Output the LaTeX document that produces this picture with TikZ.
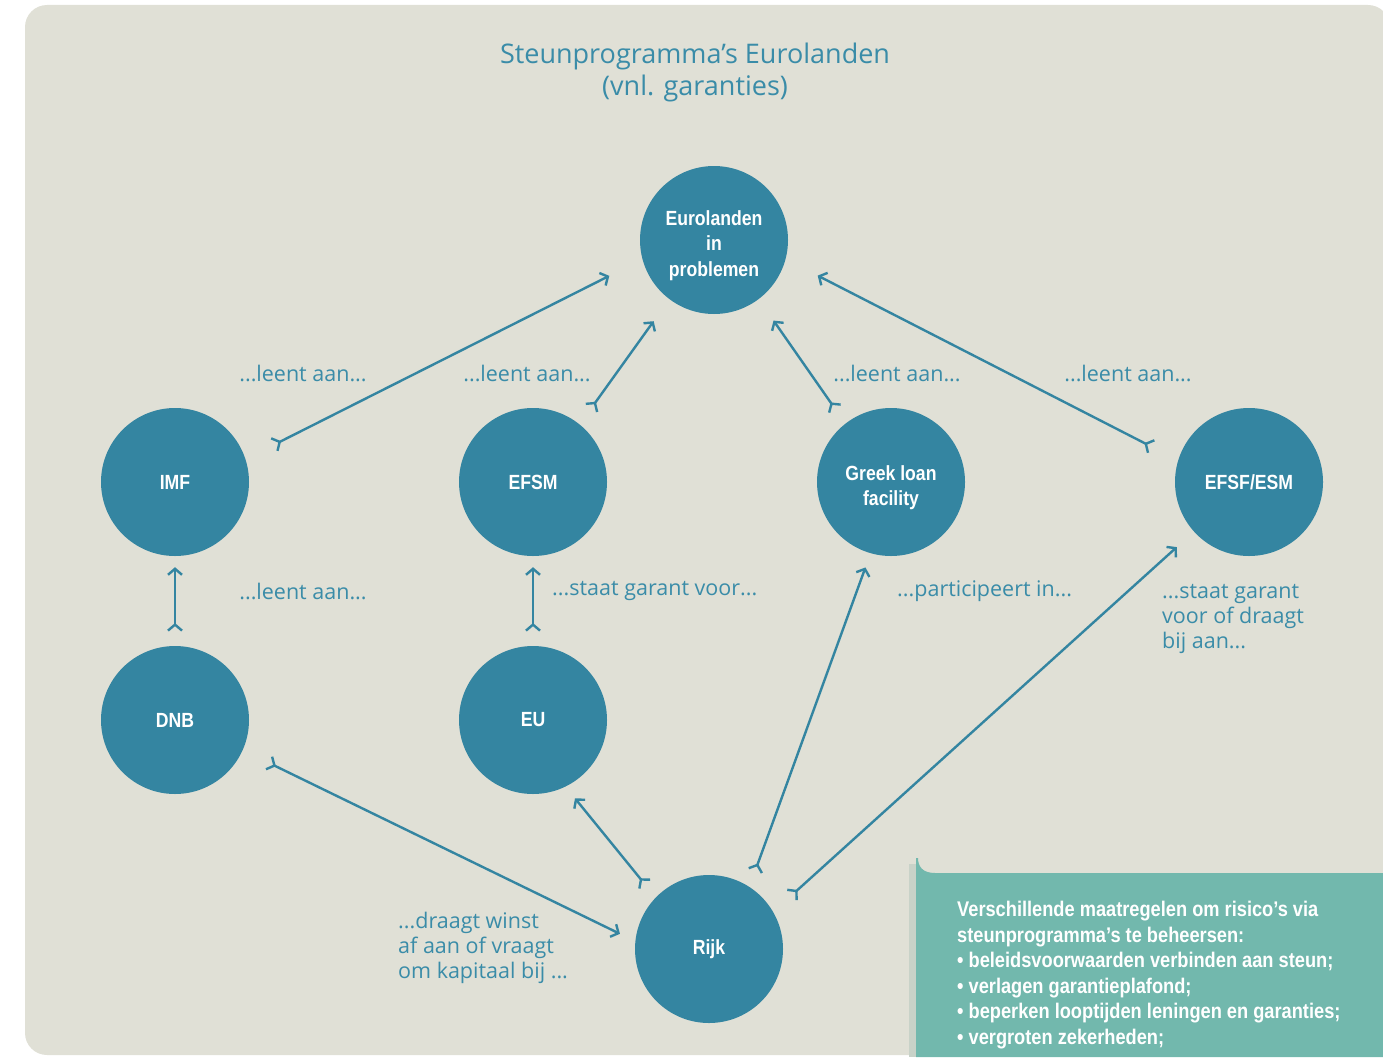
\documentclass[tikz,border=0pt]{standalone}
\usepackage{fontspec}
\setmainfont{Open Sans}
\newfontfamily\lblfont{Open Sans}
\newfontfamily\condfont[FakeStretch=0.86]{Liberation Sans}
\usetikzlibrary{arrows.meta}
\definecolor{bgc}{RGB}{224,224,214}
\definecolor{cblue}{RGB}{52,133,161}
\definecolor{tblue}{RGB}{58,140,168}
\definecolor{notecol}{RGB}{114,184,173}
\definecolor{stripcol}{RGB}{200,210,200}
\newcommand{\circtext}[1]{\raisebox{-5.8pt}[\height][\depth]{\begin{tabular}{@{}c@{}}#1\end{tabular}}}
\tikzset{
  circ/.style={circle, fill=cblue, minimum size=148pt, inner sep=0pt, text=white,
    font=\condfont\bfseries\fontsize{20.5}{25.5}\selectfont, align=center},
  lbl/.style={text=tblue, font=\lblfont\fontsize{21.5}{25}\selectfont, inner sep=0pt},
  conn/.style={draw=cblue, line width=2.4pt,
    arrows={{Straight Barb[reversed,length=6pt,width=14pt]}-{Straight Barb[length=6pt,width=14pt]}}}
}
\begin{document}
\begin{tikzpicture}[x=1pt,y=-1pt]
\useasboundingbox (0,0) rectangle (1383,1057);
\clip (0,0) rectangle (1383,1057);
\fill[bgc] (25,5) [rounded corners=22pt] -- (1390,5) -- (1390,1055) -- (25,1055) -- cycle;
% note box
\fill[stripcol] (909,864) rectangle (916,1057);
\fill[notecol] (916,858) -- (916,1057) -- (1383,1057) -- (1383,873) -- (935,873)
  .. controls (922,873) and (918,866) .. (918,858) -- cycle;
\node[anchor=north west, text=white, font=\condfont\bfseries\fontsize{21.2}{25.5}\selectfont,
  align=left, inner sep=0pt] (note) at (957,901)
  {Verschillende maatregelen om risico’s via\\
   steunprogramma’s te beheersen:\\
   • beleidsvoorwaarden verbinden aan steun;\\
   • verlagen garantieplafond;\\
   • beperken looptijden leningen en garanties;\\
   • vergroten zekerheden;};
% title
\node[text=tblue, font=\lblfont\fontsize{27}{32}\selectfont, align=center, inner sep=0pt] (title) at (695,72)
  {Steunprogramma’s Eurolanden\\(vnl. garanties)};
% nodes
\node[circ] (euro) at (714,240) {\circtext{Eurolanden\\in\\problemen}};
\node[circ] (imf) at (175,482) {IMF};
\node[circ] (efsm) at (533,482) {EFSM};
\node[circ] (greek) at (891,482) {\circtext{Greek loan\\facility}};
\node[circ] (efsf) at (1249,482) {EFSF/ESM};
\node[circ] (dnb) at (175,720) {DNB};
\node[circ] (eu) at (533,720) {EU};
\node[circ] (rijk) at (709,949) {Rijk};
% connectors
\draw[conn, shorten <=31pt, shorten >=37pt] (imf.18) -- (euro.195);
\draw[conn, shorten <=19pt, shorten >=27pt] (efsm.51) -- (euro.233);
\draw[conn, shorten <=17pt, shorten >=26pt] (greek.128) -- (euro.307);
\draw[conn, shorten <=29pt, shorten >=36pt] (efsf.163) -- (euro.345);
\draw[conn, shorten <=14pt, shorten >=11pt] (dnb.90) -- (imf.270);
\draw[conn, shorten <=14pt, shorten >=11pt] (eu.90) -- (efsm.270);
\draw[conn, shorten <=28pt, shorten >=17pt] (dnb.-24) -- (rijk.174);
\draw[conn, shorten <=16pt, shorten >=15pt] (rijk.136) -- (eu.296);
\draw[conn, shorten <=16pt, shorten >=15pt] (rijk.57) -- (greek.254);
\draw[conn, shorten <=24pt, shorten >=23pt] (rijk.30) -- (efsf.222);
% labels
\node[lbl] (l1) at (303,373) {...leent aan...};
\node[lbl] (l2) at (527,373) {...leent aan...};
\node[lbl] (l3) at (897,373) {...leent aan...};
\node[lbl] (l4) at (1128,373) {...leent aan...};
\node[lbl] (l5) at (303,591) {...leent aan...};
\node[lbl, anchor=west] (l6) at (552,591) {...staat garant voor...};
\node[lbl, anchor=west] (l7) at (897,591) {...participeert in...};
\node[lbl, anchor=north west, align=left] (l8) at (1162,584) {...staat garant\\voor of draagt\\bij aan...};
\node[lbl, anchor=north west, align=left] (l9) at (398,912) {...draagt winst\\af aan of vraagt\\om kapitaal bij ...};
\end{tikzpicture}
\end{document}
